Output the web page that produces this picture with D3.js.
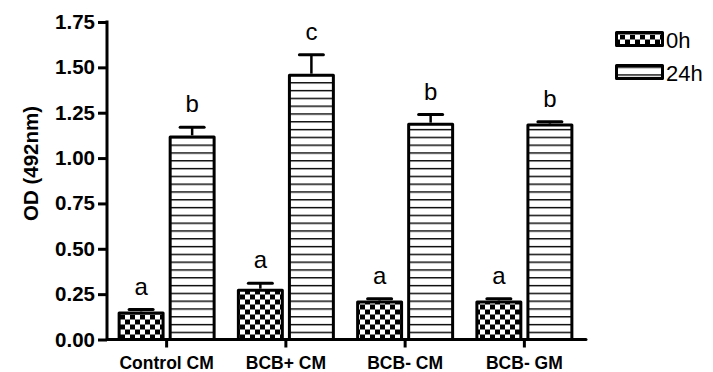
<!DOCTYPE html>
<html>
<head>
<meta charset="utf-8">
<script src="https://cdn.jsdelivr.net/npm/d3@7"></script>
<style>
  html, body { margin: 0; padding: 0; background: #fff; }
  svg { display: block; font-family: "Liberation Sans", Arial, Helvetica, sans-serif; }
</style>
</head>
<body>
<svg id="chart" width="713" height="372"></svg>
<script>
// OD at 492 nm for each medium, before (0h) and after (24h) incubation
const groups = ["Control CM", "BCB+ CM", "BCB- CM", "BCB- GM"];
const seriesNames = ["0h", "24h"];
const mean0h = [0.155, 0.28, 0.215, 0.215];
const err0h = [0.01, 0.03, 0.01, 0.01];
const mean24h = [1.125, 1.465, 1.195, 1.19];
const err24h = [0.045, 0.105, 0.045, 0.01];
const letters0h = ["a", "a", "a", "a"];
const letters24h = ["b", "c", "b", "b"];
const yTicks = [0, 0.25, 0.5, 0.75, 1.0, 1.25, 1.5, 1.75];

const rows = [];
groups.forEach((g, i) => {
  rows.push({ group: g, series: "0h", value: mean0h[i], err: err0h[i], letter: letters0h[i] });
  rows.push({ group: g, series: "24h", value: mean24h[i], err: err24h[i], letter: letters24h[i] });
});

const svg = d3.select("#chart");
const plotLeft = 107, plotRight = 584, plotTop = 22, plotBottom = 339.5;

const y = d3.scaleLinear().domain([0, 1.75]).range([plotBottom, plotTop]);
const x0 = d3.scaleBand().domain(groups).range([plotLeft, plotRight]).padding(0);
const x1 = d3.scaleBand().domain(seriesNames).range([-49, 49]).paddingInner(0.08);

// fill patterns: checkerboard for 0h, horizontal stripes for 24h
const defs = svg.append("defs");
const chk = defs.append("pattern").attr("id", "checker")
  .attr("patternUnits", "userSpaceOnUse").attr("width", 10).attr("height", 10)
  .attr("x", 0).attr("y", plotBottom);
chk.append("rect").attr("width", 10).attr("height", 10).attr("fill", "#000");
chk.append("rect").attr("x", 0).attr("y", 0).attr("width", 5).attr("height", 5).attr("fill", "#fff");
chk.append("rect").attr("x", 5).attr("y", 5).attr("width", 5).attr("height", 5).attr("fill", "#fff");

const str = defs.append("pattern").attr("id", "stripes")
  .attr("patternUnits", "userSpaceOnUse").attr("width", 10).attr("height", 7.8)
  .attr("x", 0).attr("y", plotBottom);
str.append("rect").attr("width", 10).attr("height", 7.8).attr("fill", "#fff");
str.append("rect").attr("x", 0).attr("y", 0).attr("width", 10).attr("height", 1.4).attr("fill", "#000");

const fillFor = s => s === "0h" ? "url(#checker)" : "url(#stripes)";
const barCenter = d => x0(d.group) + x0.bandwidth() / 2 + x1(d.series) + x1.bandwidth() / 2;

// error bars (upper only)
const eb = svg.append("g").attr("class", "errors");
rows.forEach(d => {
  const cx = barCenter(d);
  const yt = y(d.value + d.err);
  eb.append("line").attr("x1", cx).attr("x2", cx).attr("y1", y(d.value)).attr("y2", yt)
    .attr("stroke", "#000").attr("stroke-width", 2.5);
  eb.append("line").attr("x1", cx - 12).attr("x2", cx + 12).attr("y1", yt).attr("y2", yt)
    .attr("stroke", "#000").attr("stroke-width", 3).attr("stroke-linecap", "round");
});

// bars
svg.append("g").attr("class", "bars")
  .selectAll("rect").data(rows).join("rect")
  .attr("x", d => x0(d.group) + x0.bandwidth() / 2 + x1(d.series) + 1.5)
  .attr("width", x1.bandwidth() - 3)
  .attr("y", d => y(d.value) + 1.5)
  .attr("height", d => y(0) - y(d.value) - 1.5)
  .attr("fill", d => fillFor(d.series))
  .attr("stroke", "#000").attr("stroke-width", 3).attr("stroke-linejoin", "round");

// significance letters
svg.append("g").attr("class", "letters")
  .selectAll("text").data(rows).join("text")
  .attr("x", barCenter)
  .attr("y", d => y(d.value + d.err) - 15)
  .attr("text-anchor", "middle")
  .attr("font-size", 24).attr("fill", "#000")
  .text(d => d.letter);

// y axis
const yAxis = d3.axisLeft(y).tickValues(yTicks).tickFormat(d3.format(".2f")).tickSize(9).tickPadding(3);
const gy = svg.append("g").attr("transform", `translate(${plotLeft},0)`).call(yAxis);
gy.select(".domain").remove();
gy.append("line").attr("x1", 0).attr("x2", 0).attr("y1", y(1.75) - 1.5).attr("y2", plotBottom + 1.5)
  .attr("stroke", "#000").attr("stroke-width", 3);
gy.selectAll(".tick line").attr("stroke", "#000").attr("stroke-width", 3);
gy.selectAll(".tick text").attr("font-size", 20.5).attr("font-weight", "bold")
  .attr("fill", "#000").attr("font-family", "'Liberation Sans', Arial, sans-serif");

// x axis
const xAxis = d3.axisBottom(x0).tickSize(8).tickPadding(9);
const gx = svg.append("g").attr("transform", `translate(0,${plotBottom})`).call(xAxis);
gx.select(".domain").remove();
gx.append("line").attr("x1", plotLeft).attr("x2", 586).attr("y1", 0).attr("y2", 0)
  .attr("stroke", "#000").attr("stroke-width", 3).attr("stroke-linecap", "round");
gx.selectAll(".tick line").attr("stroke", "#000").attr("stroke-width", 3);
gx.selectAll(".tick text").attr("font-size", 17.5).attr("font-weight", "bold")
  .attr("fill", "#000").attr("font-family", "'Liberation Sans', Arial, sans-serif");

// y axis title
svg.append("text")
  .attr("transform", `translate(38,${y(0.97)}) rotate(-90)`)
  .attr("text-anchor", "middle")
  .attr("font-size", 20.5).attr("font-weight", "bold")
  .text("OD (492nm)");

// legend
const legend = svg.append("g").attr("class", "legend");
seriesNames.forEach((s, i) => {
  const ly = 31 + i * 33;
  legend.append("rect").attr("x", 616.5).attr("y", ly + 1.5).attr("width", 46).attr("height", 13)
    .attr("fill", fillFor(s)).attr("stroke", "#000").attr("stroke-width", 3).attr("stroke-linejoin", "round");
  legend.append("text").attr("x", 666).attr("y", ly + 17).attr("font-size", 22).text(s);
});
</script>
</body>
</html>
